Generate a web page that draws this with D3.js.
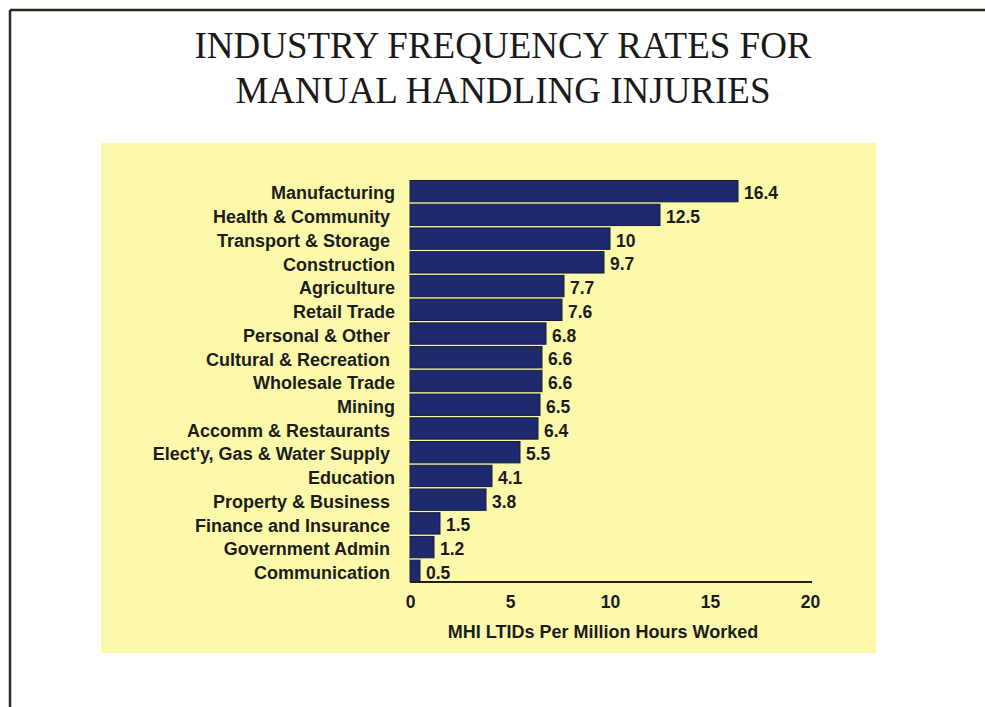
<!DOCTYPE html>
<html>
<head>
<meta charset="utf-8">
<script src="https://cdn.jsdelivr.net/npm/d3@7"></script>
<style>
  html, body { margin: 0; padding: 0; background: #ffffff; }
  svg { display: block; }
</style>
</head>
<body>
<svg id="chart" width="985" height="707"></svg>
<script>
// Industry frequency rates (MHI LTIDs per million hours worked)
const industries = [
  "Manufacturing", "Health & Community ", "Transport & Storage ", "Construction",
  "Agriculture", "Retail Trade", "Personal & Other ", "Cultural & Recreation ",
  "Wholesale Trade", "Mining", "Accomm & Restaurants ", "Elect'y, Gas & Water Supply ",
  "Education", "Property & Business ", "Finance and Insurance ", "Government Admin ",
  "Communication "
];
const rates = [16.4, 12.5, 10, 9.7, 7.7, 7.6, 6.8, 6.6, 6.6, 6.5, 6.4, 5.5, 4.1, 3.8, 1.5, 1.2, 0.5];
const xTicks = [0, 5, 10, 15, 20];
const titleLines = ["INDUSTRY FREQUENCY RATES FOR", "MANUAL HANDLING INJURIES"];
const axisTitle = "MHI LTIDs Per Million Hours Worked";

const data = industries.map((name, i) => ({ name, value: rates[i] }));

const svg = d3.select("#chart");

// page frame
svg.append("line").attr("x1", 10).attr("y1", 10).attr("x2", 985).attr("y2", 10)
  .attr("stroke", "#2b2620").attr("stroke-width", 2.5);
svg.append("line").attr("x1", 10).attr("y1", 10).attr("x2", 10).attr("y2", 707)
  .attr("stroke", "#2b2b2b").attr("stroke-width", 2.5);

// title
svg.append("g").selectAll("text").data(titleLines).join("text")
  .attr("x", 503)
  .attr("y", (d, i) => 58 + i * 45)
  .attr("text-anchor", "middle")
  .attr("font-family", "'Liberation Serif', 'Times New Roman', serif")
  .attr("font-size", 37)
  .attr("fill", "#1a1a1a")
  .text(d => d);

// chart panel
svg.append("rect").attr("x", 101).attr("y", 143).attr("width", 775).attr("height", 510)
  .attr("fill", "#fcf9ab");

const x = d3.scaleLinear().domain([0, 20]).range([410, 810]);
const y = d3.scaleBand().domain(industries).range([180, 582]).paddingInner(0.1).paddingOuter(0.02);

const font = "'Liberation Sans', Arial, sans-serif";

// bars
svg.append("g").selectAll("rect").data(data).join("rect")
  .attr("x", x(0))
  .attr("y", d => y(d.name))
  .attr("width", d => x(d.value) - x(0))
  .attr("height", y.bandwidth())
  .attr("fill", "#1f2a6e")
  .attr("stroke", "#141a3c")
  .attr("stroke-width", 1);

// value labels
svg.append("g").selectAll("text").data(data).join("text")
  .attr("x", d => x(d.value) + 6)
  .attr("y", d => y(d.name) + y.bandwidth() / 2)
  .attr("dy", "0.46em")
  .attr("font-family", font)
  .attr("font-weight", "bold")
  .attr("font-size", 17.5)
  .attr("fill", "#1c1c1c")
  .text(d => d.value);

// category labels
svg.append("g").selectAll("text").data(data).join("text")
  .attr("x", 395)
  .attr("y", d => y(d.name) + y.bandwidth() / 2)
  .attr("dy", "0.46em")
  .attr("text-anchor", "end")
  .style("white-space", "pre")
  .attr("font-family", font)
  .attr("font-weight", "bold")
  .attr("font-size", 18)
  .attr("fill", "#1c1c1c")
  .text(d => d.name);

// x axis
const xAxis = d3.axisBottom(x).tickValues(xTicks).tickSize(0).tickPadding(14).tickFormat(d3.format("d"));
const gx = svg.append("g").attr("transform", "translate(0,582)").call(xAxis);
gx.select(".domain").attr("stroke", "#2a1e14").attr("stroke-width", 1.8)
  .attr("d", `M${x(0)},0H${x(20) + 2}`);
gx.selectAll("text")
  .attr("font-family", font)
  .attr("font-weight", "bold")
  .attr("font-size", 17.5)
  .attr("fill", "#1c1c1c");

// axis title
svg.append("text")
  .attr("x", 603)
  .attr("y", 638)
  .attr("text-anchor", "middle")
  .attr("font-family", font)
  .attr("font-weight", "bold")
  .attr("font-size", 18)
  .attr("fill", "#1c1c1c")
  .text(axisTitle);
</script>
</body>
</html>
